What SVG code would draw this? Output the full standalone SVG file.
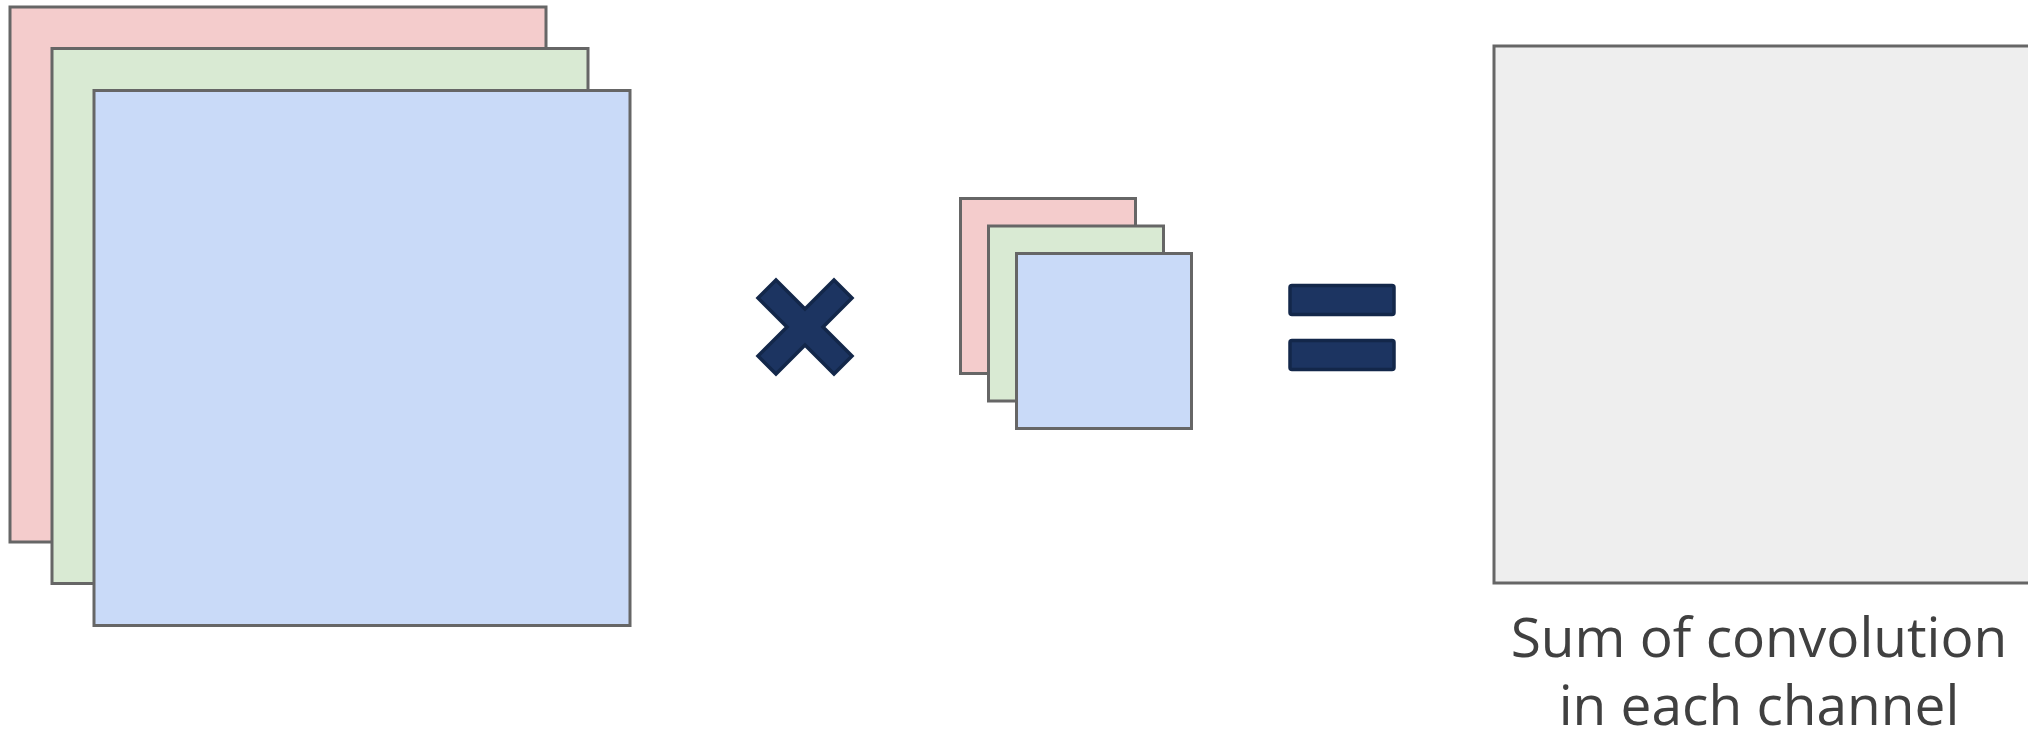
<svg xmlns="http://www.w3.org/2000/svg" width="2028" height="739" viewBox="0 0 2028 739">
<style>
.sheet{stroke:#666666;stroke-width:3;stroke-linejoin:miter}
.r{fill:#f4cccc}.g{fill:#d9ead3}.b{fill:#c9daf8}.o{fill:#eeeeee}
.op{fill:#1c3461;stroke:#13274a;stroke-width:3.5;stroke-linejoin:miter}
.lbl{font-family:"Open Sans","Liberation Sans",sans-serif;font-size:55px;fill:#404040;text-anchor:middle}
</style>
<rect width="2028" height="739" fill="#ffffff"/>
<g id="input">
<rect class="sheet r" x="10" y="7" width="536" height="535"/>
<rect class="sheet g" x="52" y="48.5" width="536" height="535"/>
<rect class="sheet b" x="94" y="90.5" width="536" height="535"/>
</g>
<g id="times">
<polygon class="op" transform="translate(805,327)" points="-47,-29 -29,-47 0,-18 29,-47 47,-29 18,0 47,29 29,47 0,18 -29,47 -47,29 -18,0"/>
</g>
<g id="kernel">
<rect class="sheet r" x="960.5" y="198.5" width="175" height="175"/>
<rect class="sheet g" x="988.5" y="226" width="175" height="175"/>
<rect class="sheet b" x="1016.5" y="253.5" width="175" height="175"/>
</g>
<g id="equals">
<rect class="op" x="1290" y="285.5" width="104" height="29" rx="2"/>
<rect class="op" x="1290" y="340.5" width="104" height="29" rx="2"/>
</g>
<g id="output">
<rect class="sheet o" x="1494" y="46" width="540" height="537"/>
<text class="lbl" x="1759" y="657">Sum of convolution</text>
<text class="lbl" x="1759" y="725">in each channel</text>
</g>
<g id="connectors"/>
</svg>
